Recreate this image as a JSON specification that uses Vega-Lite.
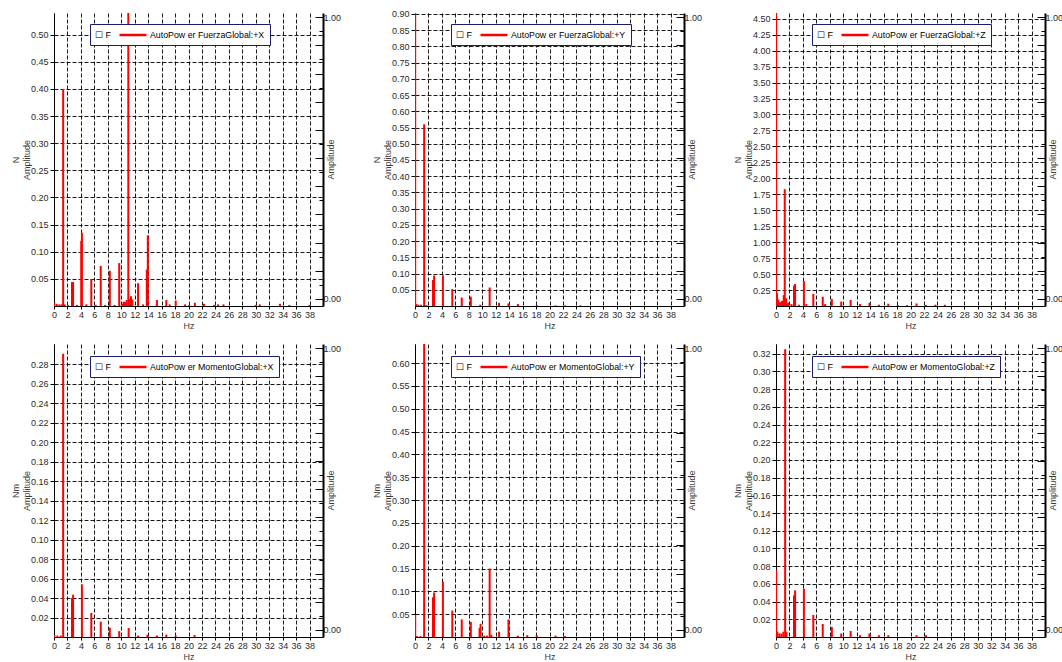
{
  "$schema": "https://vega.github.io/schema/vega-lite/v6.json",
  "background": "white",
  "padding": {"left": 11, "top": 9, "right": 0, "bottom": 0},
  "columns": 3,
  "spacing": {"row": 14, "column": 31},
  "resolve": {"scale": {"color": "independent"}, "legend": {"color": "independent"}},
  "datasets": {
    "amp": [{"x0": 0, "a": 0}, {"x0": 0, "a": 1}],
    "fx": [
      {"hz": 0.05, "v": 0.006}, {"hz": 0.4, "v": 0.004}, {"hz": 0.8, "v": 0.003}, {"hz": 1.15, "v": 0.003},
      {"hz": 1.36, "v": 0.40}, {"hz": 1.6, "v": 0.003}, {"hz": 2.1, "v": 0.002}, {"hz": 2.68, "v": 0.044},
      {"hz": 2.84, "v": 0.044}, {"hz": 3.4, "v": 0.002}, {"hz": 4.05, "v": 0.12}, {"hz": 4.15, "v": 0.135},
      {"hz": 4.8, "v": 0.003}, {"hz": 5.55, "v": 0.05}, {"hz": 6.2, "v": 0.002}, {"hz": 6.95, "v": 0.074},
      {"hz": 7.6, "v": 0.002}, {"hz": 8.3, "v": 0.065}, {"hz": 9.0, "v": 0.002}, {"hz": 9.7, "v": 0.079},
      {"hz": 10.15, "v": 0.004}, {"hz": 10.35, "v": 0.008}, {"hz": 10.55, "v": 0.007}, {"hz": 10.8, "v": 0.011},
      {"hz": 11.05, "v": 0.95}, {"hz": 11.3, "v": 0.013}, {"hz": 11.45, "v": 0.018}, {"hz": 11.65, "v": 0.012},
      {"hz": 12.5, "v": 0.042}, {"hz": 13.25, "v": 0.003}, {"hz": 13.8, "v": 0.067}, {"hz": 13.95, "v": 0.13},
      {"hz": 15.3, "v": 0.011}, {"hz": 16.7, "v": 0.011}, {"hz": 17.2, "v": 0.003}, {"hz": 18.1, "v": 0.01},
      {"hz": 19.5, "v": 0.003}, {"hz": 20.1, "v": 0.002}, {"hz": 20.95, "v": 0.006}, {"hz": 22.3, "v": 0.004},
      {"hz": 23.8, "v": 0.002}, {"hz": 24.4, "v": 0.003}, {"hz": 25.2, "v": 0.003}, {"hz": 30.0, "v": 0.002},
      {"hz": 30.6, "v": 0.003}, {"hz": 33.6, "v": 0.004}, {"hz": 35.0, "v": 0.002}, {"hz": 38.0, "v": 0.002}
    ],
    "fy": [
      {"hz": 0.03, "v": 0.95}, {"hz": 0.2, "v": 0.006}, {"hz": 0.5, "v": 0.004}, {"hz": 0.9, "v": 0.004},
      {"hz": 1.36, "v": 0.56}, {"hz": 1.7, "v": 0.003}, {"hz": 2.68, "v": 0.08}, {"hz": 2.84, "v": 0.094},
      {"hz": 4.15, "v": 0.094}, {"hz": 5.55, "v": 0.052}, {"hz": 6.95, "v": 0.026}, {"hz": 8.3, "v": 0.029},
      {"hz": 9.7, "v": 0.004}, {"hz": 11.1, "v": 0.057}, {"hz": 12.5, "v": 0.010}, {"hz": 13.9, "v": 0.008},
      {"hz": 15.3, "v": 0.006}, {"hz": 18.1, "v": 0.003}, {"hz": 20.9, "v": 0.002}, {"hz": 22.3, "v": 0.002},
      {"hz": 24.6, "v": 0.002}
    ],
    "fz": [
      {"hz": 0.03, "v": 5.0}, {"hz": 0.15, "v": 0.2}, {"hz": 0.35, "v": 0.1}, {"hz": 0.6, "v": 0.06},
      {"hz": 0.9, "v": 0.08}, {"hz": 1.15, "v": 0.17}, {"hz": 1.3, "v": 1.83}, {"hz": 1.5, "v": 0.12},
      {"hz": 1.8, "v": 0.05}, {"hz": 2.3, "v": 0.03}, {"hz": 2.68, "v": 0.32}, {"hz": 2.84, "v": 0.345},
      {"hz": 3.4, "v": 0.02}, {"hz": 4.15, "v": 0.39}, {"hz": 4.5, "v": 0.03}, {"hz": 5.55, "v": 0.19},
      {"hz": 6.95, "v": 0.145}, {"hz": 7.3, "v": 0.03}, {"hz": 8.3, "v": 0.11}, {"hz": 9.7, "v": 0.068},
      {"hz": 11.1, "v": 0.094}, {"hz": 12.5, "v": 0.03}, {"hz": 13.9, "v": 0.05}, {"hz": 15.3, "v": 0.02},
      {"hz": 16.7, "v": 0.035}, {"hz": 18.1, "v": 0.015}, {"hz": 19.5, "v": 0.015}, {"hz": 20.9, "v": 0.04},
      {"hz": 22.3, "v": 0.015}, {"hz": 23.7, "v": 0.02}, {"hz": 25.1, "v": 0.02}
    ],
    "mx": [
      {"hz": 0.05, "v": 0.002}, {"hz": 0.5, "v": 0.0015}, {"hz": 1.0, "v": 0.0015}, {"hz": 1.36, "v": 0.291},
      {"hz": 2.68, "v": 0.04}, {"hz": 2.84, "v": 0.0435}, {"hz": 4.15, "v": 0.054}, {"hz": 5.55, "v": 0.0247},
      {"hz": 6.95, "v": 0.0158}, {"hz": 8.3, "v": 0.0096}, {"hz": 9.7, "v": 0.006}, {"hz": 11.1, "v": 0.0092},
      {"hz": 12.5, "v": 0.0015}, {"hz": 13.9, "v": 0.0025}, {"hz": 15.3, "v": 0.0015}, {"hz": 16.7, "v": 0.0025},
      {"hz": 18.1, "v": 0.0015}, {"hz": 20.9, "v": 0.002}
    ],
    "my": [
      {"hz": 0.03, "v": 0.048}, {"hz": 0.3, "v": 0.002}, {"hz": 0.8, "v": 0.002}, {"hz": 1.36, "v": 0.95},
      {"hz": 2.68, "v": 0.087}, {"hz": 2.84, "v": 0.0975}, {"hz": 4.15, "v": 0.121}, {"hz": 5.55, "v": 0.058},
      {"hz": 6.95, "v": 0.0385}, {"hz": 8.3, "v": 0.033}, {"hz": 9.6, "v": 0.02}, {"hz": 9.75, "v": 0.029},
      {"hz": 10.3, "v": 0.003}, {"hz": 10.7, "v": 0.003}, {"hz": 11.1, "v": 0.15}, {"hz": 11.35, "v": 0.005},
      {"hz": 12.5, "v": 0.0115}, {"hz": 13.9, "v": 0.0385}, {"hz": 15.3, "v": 0.003}, {"hz": 16.7, "v": 0.004},
      {"hz": 18.1, "v": 0.004}, {"hz": 20.9, "v": 0.003}, {"hz": 22.3, "v": 0.002}
    ],
    "mz": [
      {"hz": 0.03, "v": 0.0757}, {"hz": 0.2, "v": 0.006}, {"hz": 0.5, "v": 0.004}, {"hz": 0.8, "v": 0.004},
      {"hz": 1.1, "v": 0.006}, {"hz": 1.36, "v": 0.325}, {"hz": 1.55, "v": 0.006}, {"hz": 2.68, "v": 0.047},
      {"hz": 2.84, "v": 0.0527}, {"hz": 4.15, "v": 0.0546}, {"hz": 5.55, "v": 0.0249}, {"hz": 6.95, "v": 0.0147},
      {"hz": 8.3, "v": 0.0113}, {"hz": 9.7, "v": 0.004}, {"hz": 11.1, "v": 0.0068}, {"hz": 12.5, "v": 0.002},
      {"hz": 13.9, "v": 0.004}, {"hz": 15.3, "v": 0.002}, {"hz": 16.7, "v": 0.002}, {"hz": 20.9, "v": 0.002},
      {"hz": 22.3, "v": 0.002}
    ]
  },
  "concat": [
    {
      "width": 269, "height": 293,
      "resolve": {"scale": {"y": "independent"}, "axis": {"y": "independent"}},
      "layer": [
        {
          "data": {"name": "fx"},
          "mark": {"type": "rule", "strokeWidth": 2, "clip": true},
          "encoding": {
            "x": {"field": "hz", "type": "quantitative", "scale": {"domain": [0, 40], "nice": false}, "axis": {"values": [0,2,4,6,8,10,12,14,16,18,20,22,24,26,28,30,32,34,36,38], "tickCount": 40, "format": "d", "title": "Hz", "labelOverlap": false}},
            "y": {"field": "v", "type": "quantitative", "scale": {"domain": [0, 0.54], "nice": false}, "axis": {"values": [0.05,0.1,0.15,0.2,0.25,0.3,0.35,0.4,0.45,0.5], "format": ".2f", "title": ["N", "Amplitude"], "labelOverlap": false}},
            "y2": {"datum": 0},
            "color": {"datum": "AutoPow er FuerzaGlobal:+X", "scale": {"range": ["#ff0000"]}, "legend": {"title": "☐ F", "orient": "none", "legendX": 36, "legendY": 11}}
          }
        },
        {
          "data": {"name": "amp"},
          "mark": {"type": "point", "opacity": 0},
          "encoding": {
            "x": {"field": "x0", "type": "quantitative"},
            "y": {"field": "a", "type": "quantitative", "scale": {"domain": [-0.025, 1.015], "nice": false, "zero": false}, "axis": {"orient": "right", "values": [0,0.1,0.2,0.3,0.4,0.5,0.6,0.7,0.8,0.9,1], "tickCount": 40, "labelExpr": "datum.value == 0 || datum.value == 1 ? datum.label : ''", "format": ".2f", "tickSize": -8, "labelPadding": 8, "labelOverlap": false, "domainWidth": 2, "grid": false, "title": "Amplitude", "titleAngle": 270, "titleX": 12, "titleY": 146, "titleBaseline": "bottom"}}
          }
        },
        {
          "data": {"name": "amp"},
          "mark": {"type": "point", "opacity": 0},
          "encoding": {
            "x": {"field": "x0", "type": "quantitative"},
            "y": {"field": "a", "type": "quantitative", "scale": {"domain": [-0.025, 1.015], "nice": false, "zero": false}, "axis": {"orient": "right", "values": [0.05,0.15,0.25,0.35,0.45,0.55,0.65,0.75,0.85,0.95], "tickCount": 40, "labels": false, "domain": false, "tickSize": -4, "grid": false, "title": null}}
          }
        }
      ]
    },
    {
      "width": 269, "height": 293,
      "resolve": {"scale": {"y": "independent"}, "axis": {"y": "independent"}},
      "layer": [
        {
          "data": {"name": "fy"},
          "mark": {"type": "rule", "strokeWidth": 2, "clip": true},
          "encoding": {
            "x": {"field": "hz", "type": "quantitative", "scale": {"domain": [0, 40], "nice": false}, "axis": {"values": [0,2,4,6,8,10,12,14,16,18,20,22,24,26,28,30,32,34,36,38], "tickCount": 40, "format": "d", "title": "Hz", "labelOverlap": false}},
            "y": {"field": "v", "type": "quantitative", "scale": {"domain": [0, 0.903], "nice": false}, "axis": {"values": [0.05,0.1,0.15,0.2,0.25,0.3,0.35,0.4,0.45,0.5,0.55,0.6,0.65,0.7,0.75,0.8,0.85,0.9], "format": ".2f", "title": ["N", "Amplitude"], "labelOverlap": false}},
            "y2": {"datum": 0},
            "color": {"datum": "AutoPow er FuerzaGlobal:+Y", "scale": {"range": ["#ff0000"]}, "legend": {"title": "☐ F", "orient": "none", "legendX": 36, "legendY": 11}}
          }
        },
        {
          "data": {"name": "amp"},
          "mark": {"type": "point", "opacity": 0},
          "encoding": {
            "x": {"field": "x0", "type": "quantitative"},
            "y": {"field": "a", "type": "quantitative", "scale": {"domain": [-0.025, 1.015], "nice": false, "zero": false}, "axis": {"orient": "right", "values": [0,0.1,0.2,0.3,0.4,0.5,0.6,0.7,0.8,0.9,1], "tickCount": 40, "labelExpr": "datum.value == 0 || datum.value == 1 ? datum.label : ''", "format": ".2f", "tickSize": -8, "labelPadding": 8, "labelOverlap": false, "domainWidth": 2, "grid": false, "title": "Amplitude", "titleAngle": 270, "titleX": 12, "titleY": 146, "titleBaseline": "bottom"}}
          }
        },
        {
          "data": {"name": "amp"},
          "mark": {"type": "point", "opacity": 0},
          "encoding": {
            "x": {"field": "x0", "type": "quantitative"},
            "y": {"field": "a", "type": "quantitative", "scale": {"domain": [-0.025, 1.015], "nice": false, "zero": false}, "axis": {"orient": "right", "values": [0.05,0.15,0.25,0.35,0.45,0.55,0.65,0.75,0.85,0.95], "tickCount": 40, "labels": false, "domain": false, "tickSize": -4, "grid": false, "title": null}}
          }
        }
      ]
    },
    {
      "width": 269, "height": 293,
      "resolve": {"scale": {"y": "independent"}, "axis": {"y": "independent"}},
      "layer": [
        {
          "data": {"name": "fz"},
          "mark": {"type": "rule", "strokeWidth": 2, "clip": true},
          "encoding": {
            "x": {"field": "hz", "type": "quantitative", "scale": {"domain": [0, 40], "nice": false}, "axis": {"values": [0,2,4,6,8,10,12,14,16,18,20,22,24,26,28,30,32,34,36,38], "tickCount": 40, "format": "d", "title": "Hz", "labelOverlap": false}},
            "y": {"field": "v", "type": "quantitative", "scale": {"domain": [0, 4.59], "nice": false}, "axis": {"values": [0.25,0.5,0.75,1,1.25,1.5,1.75,2,2.25,2.5,2.75,3,3.25,3.5,3.75,4,4.25,4.5], "format": ".2f", "title": ["N", "Amplitude"], "labelOverlap": false}},
            "y2": {"datum": 0},
            "color": {"datum": "AutoPow er FuerzaGlobal:+Z", "scale": {"range": ["#ff0000"]}, "legend": {"title": "☐ F", "orient": "none", "legendX": 36, "legendY": 11}}
          }
        },
        {
          "data": {"name": "amp"},
          "mark": {"type": "point", "opacity": 0},
          "encoding": {
            "x": {"field": "x0", "type": "quantitative"},
            "y": {"field": "a", "type": "quantitative", "scale": {"domain": [-0.025, 1.015], "nice": false, "zero": false}, "axis": {"orient": "right", "values": [0,0.1,0.2,0.3,0.4,0.5,0.6,0.7,0.8,0.9,1], "tickCount": 40, "labelExpr": "datum.value == 0 || datum.value == 1 ? datum.label : ''", "format": ".2f", "tickSize": -8, "labelPadding": 8, "labelOverlap": false, "domainWidth": 2, "grid": false, "title": "Amplitude", "titleAngle": 270, "titleX": 12, "titleY": 146, "titleBaseline": "bottom"}}
          }
        },
        {
          "data": {"name": "amp"},
          "mark": {"type": "point", "opacity": 0},
          "encoding": {
            "x": {"field": "x0", "type": "quantitative"},
            "y": {"field": "a", "type": "quantitative", "scale": {"domain": [-0.025, 1.015], "nice": false, "zero": false}, "axis": {"orient": "right", "values": [0.05,0.15,0.25,0.35,0.45,0.55,0.65,0.75,0.85,0.95], "tickCount": 40, "labels": false, "domain": false, "tickSize": -4, "grid": false, "title": null}}
          }
        }
      ]
    },
    {
      "width": 269, "height": 293,
      "resolve": {"scale": {"y": "independent"}, "axis": {"y": "independent"}},
      "layer": [
        {
          "data": {"name": "mx"},
          "mark": {"type": "rule", "strokeWidth": 2, "clip": true},
          "encoding": {
            "x": {"field": "hz", "type": "quantitative", "scale": {"domain": [0, 40], "nice": false}, "axis": {"values": [0,2,4,6,8,10,12,14,16,18,20,22,24,26,28,30,32,34,36,38], "tickCount": 40, "format": "d", "title": "Hz", "labelOverlap": false}},
            "y": {"field": "v", "type": "quantitative", "scale": {"domain": [0, 0.301], "nice": false}, "axis": {"values": [0.02,0.04,0.06,0.08,0.1,0.12,0.14,0.16,0.18,0.2,0.22,0.24,0.26,0.28], "format": ".2f", "title": ["Nm", "Amplitude"], "labelOverlap": false}},
            "y2": {"datum": 0},
            "color": {"datum": "AutoPow er MomentoGlobal:+X", "scale": {"range": ["#ff0000"]}, "legend": {"title": "☐ F", "orient": "none", "legendX": 36, "legendY": 12}}
          }
        },
        {
          "data": {"name": "amp"},
          "mark": {"type": "point", "opacity": 0},
          "encoding": {
            "x": {"field": "x0", "type": "quantitative"},
            "y": {"field": "a", "type": "quantitative", "scale": {"domain": [-0.025, 1.015], "nice": false, "zero": false}, "axis": {"orient": "right", "values": [0,0.1,0.2,0.3,0.4,0.5,0.6,0.7,0.8,0.9,1], "tickCount": 40, "labelExpr": "datum.value == 0 || datum.value == 1 ? datum.label : ''", "format": ".2f", "tickSize": -8, "labelPadding": 8, "labelOverlap": false, "domainWidth": 2, "grid": false, "title": "Amplitude", "titleAngle": 270, "titleX": 12, "titleY": 146, "titleBaseline": "bottom"}}
          }
        },
        {
          "data": {"name": "amp"},
          "mark": {"type": "point", "opacity": 0},
          "encoding": {
            "x": {"field": "x0", "type": "quantitative"},
            "y": {"field": "a", "type": "quantitative", "scale": {"domain": [-0.025, 1.015], "nice": false, "zero": false}, "axis": {"orient": "right", "values": [0.05,0.15,0.25,0.35,0.45,0.55,0.65,0.75,0.85,0.95], "tickCount": 40, "labels": false, "domain": false, "tickSize": -4, "grid": false, "title": null}}
          }
        }
      ]
    },
    {
      "width": 269, "height": 293,
      "resolve": {"scale": {"y": "independent"}, "axis": {"y": "independent"}},
      "layer": [
        {
          "data": {"name": "my"},
          "mark": {"type": "rule", "strokeWidth": 2, "clip": true},
          "encoding": {
            "x": {"field": "hz", "type": "quantitative", "scale": {"domain": [0, 40], "nice": false}, "axis": {"values": [0,2,4,6,8,10,12,14,16,18,20,22,24,26,28,30,32,34,36,38], "tickCount": 40, "format": "d", "title": "Hz", "labelOverlap": false}},
            "y": {"field": "v", "type": "quantitative", "scale": {"domain": [0, 0.642], "nice": false}, "axis": {"values": [0.05,0.1,0.15,0.2,0.25,0.3,0.35,0.4,0.45,0.5,0.55,0.6], "format": ".2f", "title": ["Nm", "Amplitude"], "labelOverlap": false}},
            "y2": {"datum": 0},
            "color": {"datum": "AutoPow er MomentoGlobal:+Y", "scale": {"range": ["#ff0000"]}, "legend": {"title": "☐ F", "orient": "none", "legendX": 36, "legendY": 12}}
          }
        },
        {
          "data": {"name": "amp"},
          "mark": {"type": "point", "opacity": 0},
          "encoding": {
            "x": {"field": "x0", "type": "quantitative"},
            "y": {"field": "a", "type": "quantitative", "scale": {"domain": [-0.025, 1.015], "nice": false, "zero": false}, "axis": {"orient": "right", "values": [0,0.1,0.2,0.3,0.4,0.5,0.6,0.7,0.8,0.9,1], "tickCount": 40, "labelExpr": "datum.value == 0 || datum.value == 1 ? datum.label : ''", "format": ".2f", "tickSize": -8, "labelPadding": 8, "labelOverlap": false, "domainWidth": 2, "grid": false, "title": "Amplitude", "titleAngle": 270, "titleX": 12, "titleY": 146, "titleBaseline": "bottom"}}
          }
        },
        {
          "data": {"name": "amp"},
          "mark": {"type": "point", "opacity": 0},
          "encoding": {
            "x": {"field": "x0", "type": "quantitative"},
            "y": {"field": "a", "type": "quantitative", "scale": {"domain": [-0.025, 1.015], "nice": false, "zero": false}, "axis": {"orient": "right", "values": [0.05,0.15,0.25,0.35,0.45,0.55,0.65,0.75,0.85,0.95], "tickCount": 40, "labels": false, "domain": false, "tickSize": -4, "grid": false, "title": null}}
          }
        }
      ]
    },
    {
      "width": 269, "height": 293,
      "resolve": {"scale": {"y": "independent"}, "axis": {"y": "independent"}},
      "layer": [
        {
          "data": {"name": "mz"},
          "mark": {"type": "rule", "strokeWidth": 2, "clip": true},
          "encoding": {
            "x": {"field": "hz", "type": "quantitative", "scale": {"domain": [0, 40], "nice": false}, "axis": {"values": [0,2,4,6,8,10,12,14,16,18,20,22,24,26,28,30,32,34,36,38], "tickCount": 40, "format": "d", "title": "Hz", "labelOverlap": false}},
            "y": {"field": "v", "type": "quantitative", "scale": {"domain": [0, 0.331], "nice": false}, "axis": {"values": [0.02,0.04,0.06,0.08,0.1,0.12,0.14,0.16,0.18,0.2,0.22,0.24,0.26,0.28,0.3,0.32], "format": ".2f", "title": ["Nm", "Amplitude"], "labelOverlap": false}},
            "y2": {"datum": 0},
            "color": {"datum": "AutoPow er MomentoGlobal:+Z", "scale": {"range": ["#ff0000"]}, "legend": {"title": "☐ F", "orient": "none", "legendX": 36, "legendY": 12}}
          }
        },
        {
          "data": {"name": "amp"},
          "mark": {"type": "point", "opacity": 0},
          "encoding": {
            "x": {"field": "x0", "type": "quantitative"},
            "y": {"field": "a", "type": "quantitative", "scale": {"domain": [-0.025, 1.015], "nice": false, "zero": false}, "axis": {"orient": "right", "values": [0,0.1,0.2,0.3,0.4,0.5,0.6,0.7,0.8,0.9,1], "tickCount": 40, "labelExpr": "datum.value == 0 || datum.value == 1 ? datum.label : ''", "format": ".2f", "tickSize": -8, "labelPadding": 8, "labelOverlap": false, "domainWidth": 2, "grid": false, "title": "Amplitude", "titleAngle": 270, "titleX": 12, "titleY": 146, "titleBaseline": "bottom"}}
          }
        },
        {
          "data": {"name": "amp"},
          "mark": {"type": "point", "opacity": 0},
          "encoding": {
            "x": {"field": "x0", "type": "quantitative"},
            "y": {"field": "a", "type": "quantitative", "scale": {"domain": [-0.025, 1.015], "nice": false, "zero": false}, "axis": {"orient": "right", "values": [0.05,0.15,0.25,0.35,0.45,0.55,0.65,0.75,0.85,0.95], "tickCount": 40, "labels": false, "domain": false, "tickSize": -4, "grid": false, "title": null}}
          }
        }
      ]
    }
  ],
  "config": {
    "font": "Liberation Sans",
    "view": {"stroke": null},
    "axis": {
      "labelFontSize": 9, "titleFontSize": 9, "titleFontWeight": "normal",
      "labelColor": "#2a2a2a", "titleColor": "#3a3a3a",
      "domainColor": "#000", "tickColor": "#000", "domainWidth": 1,
      "gridColor": "#000", "gridDash": [4, 2], "gridOpacity": 0.9, "gridWidth": 1
    },
    "axisX": {"tickSize": 3, "labelPadding": 1, "labelFlush": false, "titlePadding": 2, "grid": true, "labelOverlap": false},
    "axisLeft": {"tickSize": 4, "labelPadding": 2, "minExtent": 19, "maxExtent": 19, "titlePadding": 4, "titleLineHeight": 11, "grid": true},
    "legend": {
      "direction": "horizontal", "titleOrient": "left", "titleFontSize": 9, "titleFontWeight": "normal",
      "titleColor": "#000", "titlePadding": 16, "titleBaseline": "middle",
      "symbolType": "M-3,0H3", "symbolSize": 81, "symbolStrokeWidth": 2.5,
      "labelFontSize": 8.8, "labelColor": "#000", "labelOffset": 11,
      "strokeColor": "#1c1c6e", "fillColor": "#ffffff", "padding": 5
    }
  }
}
